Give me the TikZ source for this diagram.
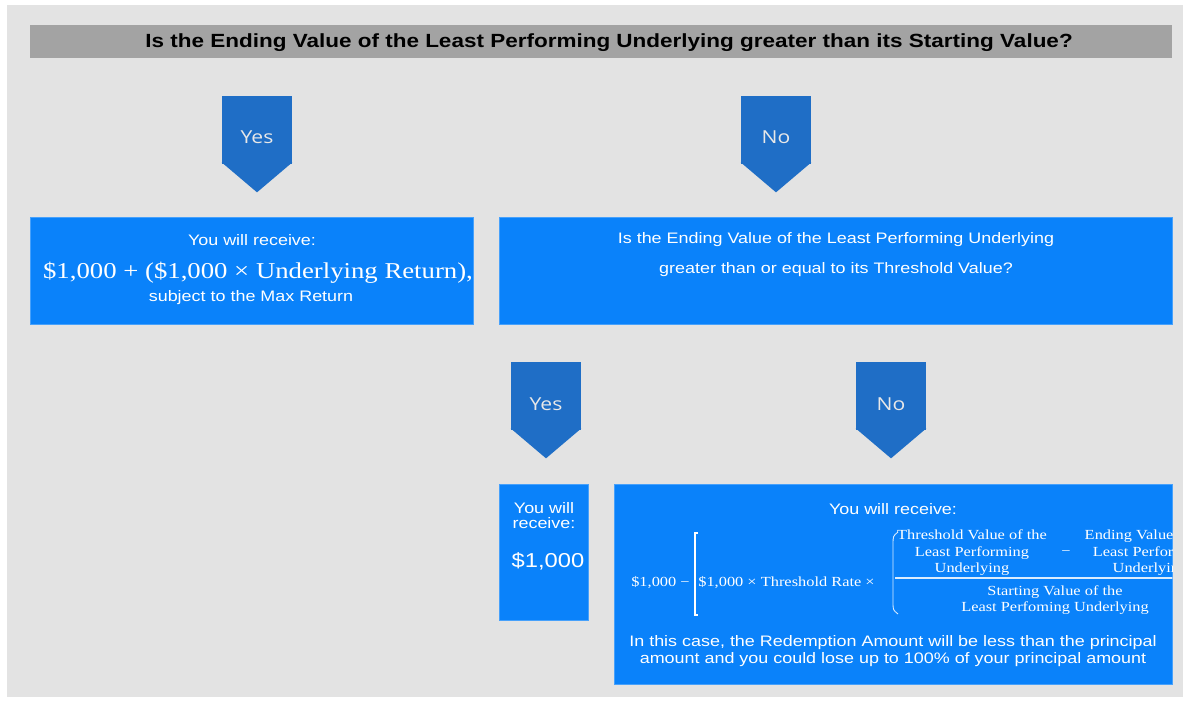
\documentclass[tikz,border=0pt]{standalone}
\usepackage{fontspec}
\setmainfont[FakeStretch=1.18]{Liberation Sans}
\newfontfamily\chevfont[FakeStretch=1.18]{Open Sans}
\newfontfamily\formfont[FakeStretch=1.18]{Liberation Serif}

\definecolor{bggray}{HTML}{E3E3E3}
\definecolor{bargray}{HTML}{A3A3A3}
\definecolor{boxblue}{HTML}{0A82FA}
\definecolor{chevblue}{HTML}{1F6EC6}
\definecolor{chevtext}{HTML}{E8E8E8}

\begin{document}
\begin{tikzpicture}[x=0.02cm,y=-0.02cm,
  box/.style={fill=boxblue,draw=boxblue!75!white,line width=0.4pt,inner sep=0pt},
  chev/.style={fill=chevblue,minimum width=1.4cm,minimum height=1.36cm,inner sep=0pt},
  chevlabel/.style={text=chevtext,font=\chevfont\fontsize{10.2}{12}\selectfont},
  txt/.style={text=white,inner sep=0pt,align=center,font=\fontsize{8.65}{9.6}\selectfont},
  form/.style={text=white,inner sep=0pt,align=center,font=\formfont\fontsize{7.9}{9.4}\selectfont}]
\useasboundingbox (0,0) rectangle (1189,702);
\fill[white] (0,0) rectangle (1189,702);
\fill[bggray] (7,5) rectangle (1183,697);
\fill[bargray] (30,25) rectangle (1172,58);
\node (title) at (609,43) [inner sep=0pt,font=\bfseries\fontsize{10.85}{13}\selectfont]
  {Is the Ending Value of the Least Performing Underlying greater than its Starting Value?};

\node (yesA) at (257,130) [chev,label={[chevlabel,yshift=-0.14cm]center:Yes}] {};
\node  (noA) at (776,130) [chev,label={[chevlabel,yshift=-0.14cm]center:No}] {};
\node (yesB) at (546,396) [chev,label={[chevlabel,yshift=-0.16cm]center:Yes}] {};
\node  (noB) at (891,396) [chev,label={[chevlabel,yshift=-0.16cm]center:No}] {};
\foreach \c in {yesA,noA,yesB,noB}
  \fill[chevblue] ([yshift=0.04cm]\c.south west) -- ([yshift=0.04cm]\c.south east) -- ([yshift=-0.56cm]\c.south) -- cycle;

\node (up) at (251.5,270.5) [box,minimum width=8.86cm,minimum height=2.14cm] {};
\node (threshold) at (835.5,270.5) [box,minimum width=13.46cm,minimum height=2.14cm] {};
\node (par) at (543.5,552) [box,minimum width=1.78cm,minimum height=2.72cm] {};
\node (loss) at (893,584) [box,minimum width=11.16cm,minimum height=4cm] {};

\node (upA) at (252,240) [txt] {You will receive:};
\node (upB) at (258,273) [txt,font=\formfont\fontsize{12.9}{14}\selectfont] {\$1,000 + (\$1,000 × Underlying Return),};
\node (upC) at (251,298) [txt] {subject to the Max Return};

\node (thA) at (836,255) [txt,font=\fontsize{8.65}{17}\selectfont]
  {Is the Ending Value of the Least Performing Underlying\\greater than or equal to its Threshold Value?};

\node (parA) at (544,516) [txt,font=\fontsize{8.65}{8.6}\selectfont] {You will\\receive:};
\node (parB) at (548,561) [txt,font=\fontsize{11.45}{13}\selectfont] {\$1,000};

\node (lossA) at (893,509) [txt] {You will receive:};
\node (lossB) at (893,651) [txt] {In this case, the Redemption Amount will be less than the principal\\amount and you could lose up to 100\% of your principal amount};

\begin{scope}
\clip (loss.south west) rectangle (loss.north east);
\node (base) at (690,583) [form,anchor=east] {\$1,000 −};
\node (rate) at (698,583) [form,anchor=west] {\$1,000 × Threshold Rate ×};
\draw[white,line width=0.7pt] (698,533) -- (695,533) -- (695,615) -- (698,615);
\draw[white!85!boxblue,line width=0.5pt] (898,532) .. controls (893,536) .. (893,545) -- (893,602) .. controls (893,610) .. (898,614);
\node (numA) at (972,553) [form] {Threshold Value of the\\Least Performing\\Underlying};
\node (minus) at (1066,553) [form] {−};
\node (numB) at (1150,553) [form] {Ending Value of the\\Least Performing\\Underlying};
\draw[white!85!boxblue,line width=0.6pt] (895,578) -- (1200,578);
\node (den) at (1055,600) [form] {Starting Value of the\\Least Perfoming Underlying};
\end{scope}
\end{tikzpicture}
\end{document}
